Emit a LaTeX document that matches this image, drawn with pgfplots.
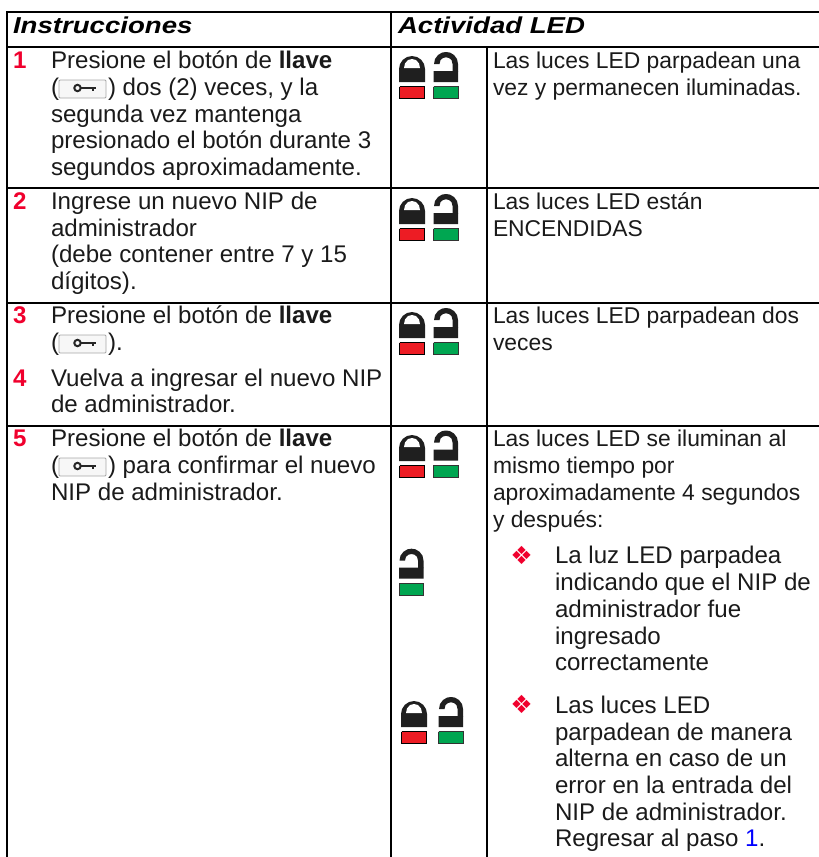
\documentclass[border=0pt]{standalone}
\usepackage{fontspec}
\setmainfont{Liberation Sans}
\usepackage{pgfplots}
\pgfplotsset{compat=1.18}
\definecolor{txt}{HTML}{1A1A1A}
\definecolor{lred}{HTML}{ED1C24}
\definecolor{lgreen}{HTML}{00A651}
\definecolor{nred}{HTML}{F0002D}
\newcommand\fs{\fontsize{24.1}{26}\selectfont}
\newcommand\fc{\fontsize{22.85}{26}\selectfont}
\newcommand\T[3]{\node[anchor=base west,inner sep=0pt,outer sep=0pt,font=\fs,text=txt] at (axis cs:#1,#2) {#3};}
\newcommand\C[2]{\node[anchor=base west,inner sep=0pt,outer sep=0pt,font=\fc,text=txt] at (axis cs:493,#1) {#2};}
\newcommand\N[2]{\node[anchor=base west,inner sep=0pt,outer sep=0pt,font=\fs\bfseries,text=nred] at (axis cs:13,#1) {#2};}
\newcommand\Hd[2]{\node[anchor=base west,inner sep=0pt,outer sep=0pt,font={\fontsize{23}{26}\selectfont\bfseries\itshape\addfontfeature{FakeStretch=1.2}},text=black] at (axis cs:#1,33) {#2};}
\newcommand\Bul[1]{\node[anchor=center,inner sep=0pt,outer sep=0pt,font={\fontspec{DejaVu Sans}\fontsize{25}{26}\selectfont},text=nred] at (axis cs:521.7,#1) {❖};}
\newcommand\HL[3]{\addplot[black,line width=2pt,no markers] coordinates {(#1,#3) (#2,#3)};}
\newcommand\VL[3]{\addplot[black,line width=2pt,no markers] coordinates {(#1,#2) (#1,#3)};}
\newcommand\ClosedLock[2]{%
\addplot[draw=none,fill=black!88,no markers,xshift=#1pt,yshift=-#2pt] coordinates {(399,82) (425,82) (425,69) (424,64) (421.2,59.8) (417,57) (412,56) (407,57) (402.8,59.8) (400,64) (399,69) (399,82)};
\addplot[draw=none,fill=white,no markers,xshift=#1pt,yshift=-#2pt] coordinates {(404,68) (405,63.5) (408,60) (412,59) (416,60) (419,63.5) (420,68) (404,68)};
\addplot[draw=black,line width=1pt,fill=lred,no markers,xshift=#1pt,yshift=-#2pt] coordinates {(399.5,86.5) (424,86.5) (424,98.5) (399.5,98.5) (399.5,86.5)};}
\newcommand\OpenLock[2]{%
\addplot[draw=none,fill=black!88,no markers,xshift=#1pt,yshift=-#2pt] coordinates {(433.5,71) (458,71) (458,82) (433.5,82) (433.5,71)};
\addplot[draw=none,fill=black!88,no markers,xshift=#1pt,yshift=-#2pt] coordinates {(434,64) (435,59) (438,55) (442,52.6) (446,52) (450,52.6) (454,55) (457,59) (458,64) (458,71.5) (452.5,71.5) (452.5,64) (451.5,60) (449,58) (446,57.3) (443,58) (440.5,60) (439.5,64) (434,64)};
\addplot[draw=black!80,line width=1pt,fill=lgreen,no markers,xshift=#1pt,yshift=-#2pt] coordinates {(433.5,86.5) (458,86.5) (458,98.5) (433.5,98.5) (433.5,86.5)};}
\newcommand\KeyBtn[1]{%
\addplot[draw=black!35,line width=0.8pt,fill=black!3,no markers,yshift=-#1pt] coordinates {(60,80) (105,80) (106,81) (106,97) (105,98) (60,98) (59,97) (59,81) (60,80)};
\addplot[draw=black!85,line width=2.4pt,no markers,yshift=-#1pt] coordinates {(81,88) (96,88)};
\addplot[draw=black!85,line width=2pt,no markers,yshift=-#1pt] coordinates {(92.5,88) (92.5,91)};
\addplot[only marks,mark=o,mark size=3.2pt,mark options={draw=black!85,line width=2pt},yshift=-#1pt] coordinates {(77.5,88)};}
\begin{document}
\begin{tikzpicture}
\path[use as bounding box] (0,0) rectangle (819pt,857pt);
\begin{axis}[at={(0,0)},anchor=south west,width=819pt,height=857pt,scale only axis,
  xmin=0,xmax=819,ymin=0,ymax=857,y dir=reverse,axis lines=none,clip=false]
\HL{6}{819}{12}
\HL{6}{819}{46.7}
\HL{6}{819}{187.7}
\HL{6}{819}{302.7}
\HL{6}{819}{426}
\VL{7}{11}{857}
\VL{391}{11}{857}
\VL{487}{46.7}{857}
\Hd{13}{Instrucciones}
\Hd{398}{Actividad LED}
\ClosedLock{0}{0}\OpenLock{0}{0}
\ClosedLock{0}{142}\OpenLock{0}{142}
\ClosedLock{0}{256}\OpenLock{0}{256}
\ClosedLock{0}{379}\OpenLock{0}{378.5}
\OpenLock{-34.5}{496.7}
\ClosedLock{2}{645}\OpenLock{5}{645}
\KeyBtn{0}
\KeyBtn{255}
\KeyBtn{378}
\N{68}{1}
\T{51}{68}{Presione el botón de \textbf{llave}}
\T{51}{95}{(}
\T{108}{95}{) dos (2) veces, y la}
\T{51}{122}{segunda vez mantenga}
\T{51}{148}{presionado el botón durante 3}
\T{51}{175}{segundos aproximadamente.}
\N{209}{2}
\T{51}{209}{Ingrese un nuevo NIP de}
\T{51}{236}{administrador}
\T{51}{262}{(debe contener entre 7 y 15}
\T{51}{289}{dígitos).}
\N{323}{3}
\T{51}{323}{Presione el botón de \textbf{llave}}
\T{51}{350}{(}
\T{108}{350}{).}
\N{386}{4}
\T{51}{386}{Vuelva a ingresar el nuevo NIP}
\T{51}{412}{de administrador.}
\N{446}{5}
\T{51}{446}{Presione el botón de \textbf{llave}}
\T{51}{473}{(}
\T{108}{473}{) para confirmar el nuevo}
\T{51}{500}{NIP de administrador.}
\C{68}{Las luces LED parpadean una}
\C{95}{vez y permanecen iluminadas.}
\C{209}{Las luces LED están}
\C{236}{ENCENDIDAS}
\C{323}{Las luces LED parpadean dos}
\C{350}{veces}
\C{446}{Las luces LED se iluminan al}
\C{473}{mismo tiempo por}
\C{500}{aproximadamente 4 segundos}
\C{527}{y después:}
\Bul{555}
\T{555}{563}{La luz LED parpadea}
\T{555}{590}{indicando que el NIP de}
\T{555}{617}{administrador fue}
\T{555}{644}{ingresado}
\T{555}{670}{correctamente}
\Bul{704}
\T{555}{713}{Las luces LED}
\T{555}{740}{parpadean de manera}
\T{555}{766}{alterna en caso de un}
\T{555}{793}{error en la entrada del}
\T{555}{820}{NIP de administrador.}
\T{555}{846}{Regresar al paso \textcolor{blue}{1}.}
\end{axis}
\end{tikzpicture}
\end{document}
